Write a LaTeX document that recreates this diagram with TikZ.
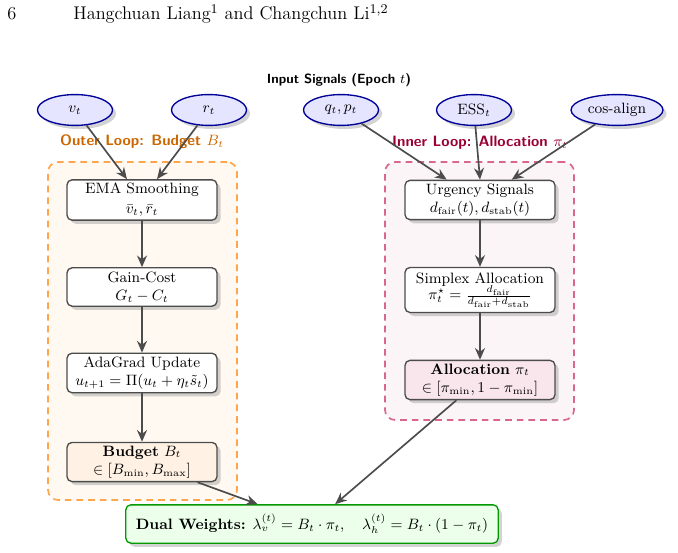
\documentclass[tikz,border=0pt]{standalone}
\usepackage{fontspec}
\usetikzlibrary{shapes.geometric,arrows.meta,shadows}
\begin{document}
\begin{tikzpicture}[x=0.6pt,y=-0.6pt,
  sig/.style={ellipse, draw=blue!60!black, fill=blue!10, thick, minimum width=45pt, minimum height=18.5pt, inner sep=2pt, font=\small, drop shadow={opacity=0.35}},
  stepbox/.style={rectangle, rounded corners=3pt, draw=black!70, fill=white, thick, minimum width=90pt, minimum height=23pt, align=center, font=\small, inner sep=2pt, drop shadow={opacity=0.35}},
  loopbox/.style={rectangle, rounded corners=6pt, dashed, dash pattern=on 4pt off 3pt, line width=1pt, minimum width=113.4pt},
  looplbl/.style={font=\small\sffamily\bfseries},
  arr/.style={-{Stealth[length=7pt,width=6pt]}, draw=black!70, line width=1pt}]
\useasboundingbox (0,0) rectangle (678,553);
% header
\node[anchor=base west, inner sep=0pt] (pg) at (7,20) {\fontsize{11}{13}\selectfont 6};
\node[anchor=base west, inner sep=0pt] (hdr) at (73,20) {\fontsize{11}{13}\selectfont Hangchuan Liang$^1$ and Changchun Li$^{1,2}$};
% loop boxes
\node[loopbox, draw=orange!70, fill=orange!5, minimum height=202.8pt] (outer) at (142.5,331) {};
\node[loopbox, draw=purple!60, fill=purple!4, minimum height=154.8pt] (inner) at (479.5,291) {};
% title and labels
\node[font=\footnotesize\sffamily\bfseries] (title) at (339,80) {Input Signals (Epoch $t$)};
\node[looplbl, text=orange!80!black] (outlbl) at (142,142) {Outer Loop: Budget $B_t$};
\node[looplbl, text=purple!80!black] (inlbl) at (480,143) {Inner Loop: Allocation $\pi_t$};
% signals
\node[sig] (vt) at (75,110) {$v_t$};
\node[sig] (rt) at (209,110) {$r_t$};
\node[sig] (qp) at (341,110) {$q_t, p_t$};
\node[sig] (ess) at (474,110) {ESS$_t$};
\node[sig] (cos) at (617,110) {cos-align};
% outer loop
\node[stepbox] (ema) at (142,200) {EMA Smoothing\\[1pt]$\bar v_t, \bar r_t$};
\node[stepbox] (gain) at (142,287) {Gain-Cost\\$G_t - C_t$};
\node[stepbox] (ada) at (142,373) {AdaGrad Update\\$u_{t+1} = \Pi(u_t + \eta_t \tilde s_t)$};
\node[stepbox, fill=orange!10] (bud) at (142,462) {\textbf{Budget} $B_t$\\$\in [B_{\min}, B_{\max}]$};
% inner loop
\node[stepbox] (urg) at (480,200) {Urgency Signals\\$d_{\mathrm{fair}}(t), d_{\mathrm{stab}}(t)$};
\node[stepbox, minimum height=27pt] (simp) at (480,290) {Simplex Allocation\\[-1pt]$\pi_t^\star = \frac{d_{\mathrm{fair}}}{d_{\mathrm{fair}} + d_{\mathrm{stab}}}$};
\node[stepbox, fill=purple!10] (alloc) at (480,380) {\textbf{Allocation} $\pi_t$\\$\in [\pi_{\min}, 1-\pi_{\min}]$};
% output
\node[stepbox, draw=green!60!black, fill=green!8, minimum width=222pt, inner xsep=6pt] (dual) at (312,524) {\textbf{Dual Weights:} $\lambda_v^{(t)} = B_t \cdot \pi_t, \quad \lambda_h^{(t)} = B_t \cdot (1-\pi_t)$};
% arrows
\draw[arr] (vt) -- ([xshift=-9pt]ema.north);
\draw[arr] (rt) -- ([xshift=9pt]ema.north);
\draw[arr] (qp) -- ([xshift=-20pt]urg.north);
\draw[arr] (ess) -- (urg.north);
\draw[arr] (cos) -- ([xshift=19pt]urg.north);
\draw[arr] (ema) -- (gain);
\draw[arr] (gain) -- (ada);
\draw[arr] (ada) -- (bud);
\draw[arr] (urg) -- (simp);
\draw[arr] (simp) -- (alloc);
\draw[arr] (bud) -- (dual);
\draw[arr] (alloc) -- (dual);
\end{tikzpicture}
\end{document}
